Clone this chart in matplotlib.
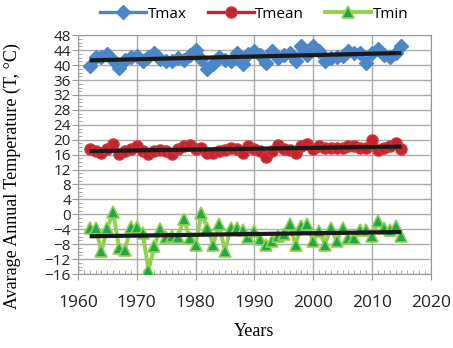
import matplotlib
matplotlib.use("Agg")
import matplotlib.pyplot as plt
import numpy as np
from matplotlib.ticker import MultipleLocator

years = list(range(1962, 2016))
tmax = [39.9, 42.2, 42.3, 43.0, 41.5, 39.3, 41.5, 42.2, 42.5, 41.0,
        42.2, 43.2, 41.7, 41.2, 41.0, 41.9, 41.5, 42.8, 44.1, 41.7,
        38.9, 40.2, 42.3, 41.5, 41.0, 43.2, 40.2, 43.0, 43.7, 42.8,
        40.6, 43.7, 41.9, 42.8, 43.2, 41.0, 45.0, 42.8, 45.0, 43.7,
        41.0, 41.9, 42.2, 42.5, 43.7, 43.2, 43.2, 40.6, 43.2, 44.3,
        42.8, 42.3, 43.2, 45.0]
tmean = [17.6, 17.0, 16.5, 17.5, 18.8, 16.1, 17.0, 17.5, 18.2, 17.0,
         16.1, 17.0, 17.3, 17.0, 16.1, 17.6, 18.2, 18.5, 17.5, 17.9,
         16.5, 16.5, 17.0, 17.3, 17.9, 17.5, 16.5, 18.4, 17.6, 17.0,
         15.5, 17.0, 18.5, 17.6, 17.3, 16.5, 18.2, 18.8, 17.6, 18.4,
         17.9, 17.9, 17.9, 17.9, 18.2, 18.2, 17.9, 17.9, 20.0, 17.3,
         17.9, 18.2, 19.1, 17.6]
tmin = [-3.6, -3.6, -9.9, -3.6, 0.5, -9.0, -9.5, -3.3, -3.3, -5.0,
        -14.9, -8.6, -3.9, -6.1, -5.9, -6.1, -1.2, -6.3, -8.1, 0.3,
        -3.6, -8.1, -2.7, -9.9, -3.6, -3.6, -4.1, -6.1, -4.5, -6.6,
        -8.1, -7.2, -5.9, -5.4, -2.7, -8.1, -3.2, -2.7, -7.2, -4.5,
        -8.1, -3.6, -7.2, -3.6, -6.3, -6.3, -4.1, -4.1, -5.9, -1.8,
        -3.6, -4.1, -3.2, -5.9]
series_names = ["Tmax", "Tmean", "Tmin"]
x_ticks = [1960, 1970, 1980, 1990, 2000, 2010, 2020]
y_ticks = list(range(-16, 49, 4))

fig = plt.figure(figsize=(4.53, 3.48), dpi=100)
ax = fig.add_axes([0.172, 0.2126, 0.779, 0.686])

yrs = np.array(years)
blue = "#4a86c8"
red = "#c8232c"
lgreen = "#92d050"
dgreen = "#1fa84a"

ax.plot(yrs, tmax, color=blue, lw=2.4, marker="D", ms=7, mfc=blue, mec=blue,
        label=series_names[0], zorder=3)
ax.plot(yrs, tmean, color=red, lw=2.4, marker="o", ms=8, mfc=red, mec="#d0363d",
        label=series_names[1], zorder=3)
ax.plot(yrs, tmin, color=lgreen, lw=2.8, marker="^", ms=8, mfc=dgreen, mec=lgreen,
        mew=1.2, label=series_names[2], zorder=3)

for s in (tmax, tmean, tmin):
    c = np.polyfit(yrs, s, 1)
    ax.plot([yrs[0], yrs[-1]], np.polyval(c, [yrs[0], yrs[-1]]),
            color="#1a1a1a", lw=3.0, zorder=4, solid_capstyle="butt")

ax.set_xlim(1960, 2020)
ax.set_ylim(-16, 48)
ax.set_xticks(x_ticks)
ax.set_yticks(y_ticks)
ax.xaxis.set_minor_locator(MultipleLocator(1))
ax.yaxis.set_minor_locator(MultipleLocator(1))
ax.grid(True, which="major", color="#ababab", lw=1.0, zorder=0)
ax.set_axisbelow(True)

ax.tick_params(which="major", direction="out", length=4, color="#999999",
               pad=2)
ax.tick_params(which="minor", direction="in", length=3, color="#999999")
ax.tick_params(axis="y", which="major", labelsize=11, pad=1)
ax.tick_params(axis="x", which="major", labelsize=12.5, pad=11)
for lab in ax.get_xticklabels() + ax.get_yticklabels():
    lab.set_fontfamily("Open Sans")
    lab.set_color("#222222")

for side in ("left", "bottom"):
    ax.spines[side].set_color("#999999")
for side in ("top", "right"):
    ax.spines[side].set_color("#6fa0d8")

ax.set_xlabel("Years", family="Liberation Serif", fontsize=13, labelpad=9)
ax.set_ylabel("Avarage Annual Temperature (T, °C)", family="Liberation Serif",
              fontsize=13)
ax.yaxis.set_label_coords(-0.162, 0.41)

leg = ax.legend(loc="lower center", bbox_to_anchor=(0.5, 1.0), ncol=3,
                frameon=False, handlelength=3.0, handletextpad=0.1,
                columnspacing=1.4, borderaxespad=0.5,
                prop={"family": "Open Sans", "size": 11})

fig.savefig("out.png", dpi=100)
